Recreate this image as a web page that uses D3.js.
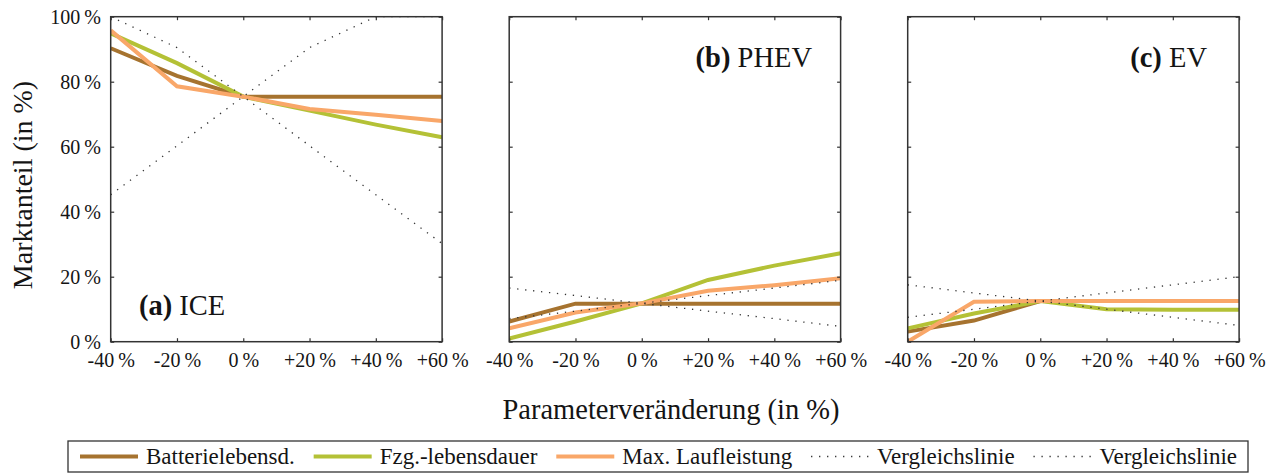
<!DOCTYPE html>
<html>
<head>
<meta charset="utf-8">
<script src="https://cdn.jsdelivr.net/npm/d3@7"></script>
<style>
  html, body { margin: 0; padding: 0; background: #fff; }
  svg { display: block; }
</style>
</head>
<body>
<svg id="chart" width="1281" height="473"></svg>
<script>
// Parameter steps (x) and tick labels
const paramSteps = [-40, -20, 0, 20, 40, 60];
const xTickLabels = ["-40\u2009%", "-20\u2009%", "0\u2009%", "+20\u2009%", "+40\u2009%", "+60\u2009%"];
const yTicks = [0, 20, 40, 60, 80, 100];
const yTickLabels = ["0\u2009%", "20\u2009%", "40\u2009%", "60\u2009%", "80\u2009%", "100\u2009%"];

// Panels
const panelLetters = ["(a)", "(b)", "(c)"];
const panelNames = ["ICE", "PHEV", "EV"];

// Market share (in %) — ICE
const batterieICE = [90.3, 81.8, 75.4, 75.4, 75.4, 75.4];
const fzgICE      = [94.9, 85.7, 75.4, 71.1, 66.8, 62.9];
const laufICE     = [95.8, 78.6, 75.4, 71.6, 69.8, 67.9];
const vglFallICE  = [100, 90.5, 75.4, 60.3, 45.2, 30.2];
const vglRiseICE  = [45.2, 60.3, 75.4, 90.5, 100, 100];

// Market share (in %) — PHEV
const batteriePHEV = [6.2, 11.7, 11.7, 11.7, 11.7, 11.7];
const fzgPHEV      = [1.0, 6.2, 11.8, 19.0, 23.4, 27.2];
const laufPHEV     = [4.1, 9.0, 11.8, 15.7, 17.4, 19.5];
const vglFallPHEV  = [16.5, 14.2, 11.8, 9.4, 7.1, 4.7];
const vglRisePHEV  = [7.1, 9.4, 11.8, 14.2, 16.5, 18.9];

// Market share (in %) — EV
const batterieEV = [3.1, 6.5, 12.5, 12.5, 12.5, 12.5];
const fzgEV      = [4.1, 8.7, 12.5, 10.0, 9.8, 9.8];
const laufEV     = [0.0, 12.3, 12.5, 12.5, 12.5, 12.5];
const vglFallEV  = [17.5, 15.0, 12.5, 10.0, 7.5, 5.0];
const vglRiseEV  = [7.5, 10.0, 12.5, 15.0, 17.5, 20.0];

const seriesNames = ["Batterielebensd.", "Fzg.-lebensdauer", "Max. Laufleistung", "Vergleichslinie", "Vergleichslinie"];

const panelSeries = [
  [batterieICE, fzgICE, laufICE, vglFallICE, vglRiseICE],
  [batteriePHEV, fzgPHEV, laufPHEV, vglFallPHEV, vglRisePHEV],
  [batterieEV, fzgEV, laufEV, vglFallEV, vglRiseEV]
];

// Styles
const FONT = "'Liberation Serif', 'Times New Roman', serif";
const seriesStyle = [
  { color: "#a6732f", width: 4, dash: null },
  { color: "#b4c136", width: 4, dash: null },
  { color: "#f9a769", width: 4, dash: null },
  { color: "#333333", width: 1.3, dash: "1.3,6.7" },
  { color: "#333333", width: 1.3, dash: "1.3,6.7" }
];
const frameColor = "#333333";
const textColor = "#141414";

const svg = d3.select("#chart");

const plotTop = 16.7, plotHeight = 325;
const plotWidth = 331.4;
const panelLeft = [110.7, 509.2, 907.7];

const y = d3.scaleLinear().domain([0, 100]).range([plotTop + plotHeight, plotTop]);

// title anchors: (a) left-aligned, (b)/(c) right-aligned
const titlePos = [
  { x: 139, y: 315, anchor: "start" },
  { x: 812, y: 67, anchor: "end" },
  { x: 1207, y: 67, anchor: "end" }
];

panelSeries.forEach((seriesList, p) => {
  const x0 = panelLeft[p];
  const x = d3.scaleLinear().domain([-40, 60]).range([x0, x0 + plotWidth]);
  const g = svg.append("g");

  const clipId = "clip" + p;
  svg.append("clipPath").attr("id", clipId)
    .append("rect").attr("x", x0).attr("y", plotTop)
    .attr("width", plotWidth).attr("height", plotHeight);

  // series lines
  const line = d3.line()
    .x((d, i) => x(paramSteps[i]))
    .y(d => y(d));
  const lines = g.append("g").attr("clip-path", `url(#${clipId})`);
  seriesList.forEach((vals, s) => {
    const st = seriesStyle[s];
    lines.append("path")
      .datum(vals)
      .attr("d", line)
      .attr("fill", "none")
      .attr("stroke", st.color)
      .attr("stroke-width", st.width)
      .attr("stroke-dasharray", st.dash)
      .attr("stroke-linejoin", "miter");
  });

  // axes with inward ticks on all four sides
  const tick = 3.5;
  const bottom = d3.axisBottom(x).tickValues(paramSteps).tickSize(-tick).tickSizeOuter(0)
    .tickFormat((d, i) => xTickLabels[i]);
  const top = d3.axisTop(x).tickValues(paramSteps).tickSize(-tick).tickSizeOuter(0).tickFormat("");
  const left = d3.axisLeft(y).tickValues(yTicks).tickSize(-tick).tickSizeOuter(0)
    .tickFormat(p === 0 ? ((d, i) => yTickLabels[i]) : "");
  const right = d3.axisRight(y).tickValues(yTicks).tickSize(-tick).tickSizeOuter(0).tickFormat("");

  const gb = g.append("g").attr("transform", `translate(0,${plotTop + plotHeight})`).call(bottom);
  const gt = g.append("g").attr("transform", `translate(0,${plotTop})`).call(top);
  const gl = g.append("g").attr("transform", `translate(${x0},0)`).call(left);
  const gr = g.append("g").attr("transform", `translate(${x0 + plotWidth},0)`).call(right);

  [gb, gt, gl, gr].forEach(a => {
    a.attr("font-family", FONT);
    a.select(".domain").remove();
    a.selectAll(".tick line").attr("stroke", frameColor).attr("stroke-width", 1.2);
    a.selectAll("text").attr("font-family", FONT).attr("font-size", 20).attr("fill", textColor);
  });
  gb.selectAll("text").attr("dy", null).attr("y", 25.8);
  gl.selectAll("text").attr("dy", null).attr("x", -9.7).attr("y", 6.5);

  // frame
  g.append("rect")
    .attr("x", x0).attr("y", plotTop)
    .attr("width", plotWidth).attr("height", plotHeight)
    .attr("fill", "none").attr("stroke", frameColor).attr("stroke-width", 1.5);

  // panel title
  const t = g.append("text")
    .attr("x", titlePos[p].x).attr("y", titlePos[p].y)
    .attr("text-anchor", titlePos[p].anchor)
    .attr("font-family", FONT).attr("font-size", 28.5).attr("fill", textColor);
  t.append("tspan").attr("font-weight", "bold").text(panelLetters[p]);
  t.append("tspan").text("\u00a0" + panelNames[p]);
});

// axis titles
svg.append("text")
  .attr("x", 671).attr("y", 419)
  .attr("text-anchor", "middle")
  .attr("font-family", FONT).attr("font-size", 28.5).attr("fill", textColor)
  .text("Parameterveränderung (in %)");

svg.append("text")
  .attr("transform", "translate(32,185) rotate(-90)")
  .attr("text-anchor", "middle")
  .attr("font-family", FONT).attr("font-size", 28).attr("fill", textColor)
  .text("Marktanteil (in %)");

// legend
const legBox = { x: 68, y: 441, w: 1180, h: 31 };
const leg = svg.append("g");
leg.append("rect")
  .attr("x", legBox.x).attr("y", legBox.y).attr("width", legBox.w).attr("height", legBox.h)
  .attr("fill", "#fff").attr("stroke", frameColor).attr("stroke-width", 1.3);

const sampleLen = 58, sampleGap = 8, padL = 12, padR = 11;
const cy = legBox.y + legBox.h / 2;
const items = seriesNames.map((name, i) => {
  const it = leg.append("g");
  const st = seriesStyle[i];
  it.append("line").attr("x1", 0).attr("x2", sampleLen).attr("y1", 0).attr("y2", 0)
    .attr("stroke", st.color).attr("stroke-width", st.width)
    .attr("stroke-dasharray", st.dash);
  const txt = it.append("text").attr("x", sampleLen + sampleGap).attr("y", 7)
    .attr("font-family", FONT).attr("font-size", 23).attr("fill", textColor).text(name);
  return { g: it, w: sampleLen + sampleGap + txt.node().getComputedTextLength() };
});
const totalW = d3.sum(items, d => d.w);
const gap = (legBox.w - padL - padR - totalW) / (items.length - 1);
let cx = legBox.x + padL;
items.forEach(it => {
  it.g.attr("transform", `translate(${cx},${cy})`);
  cx += it.w + gap;
});
</script>
</body>
</html>
